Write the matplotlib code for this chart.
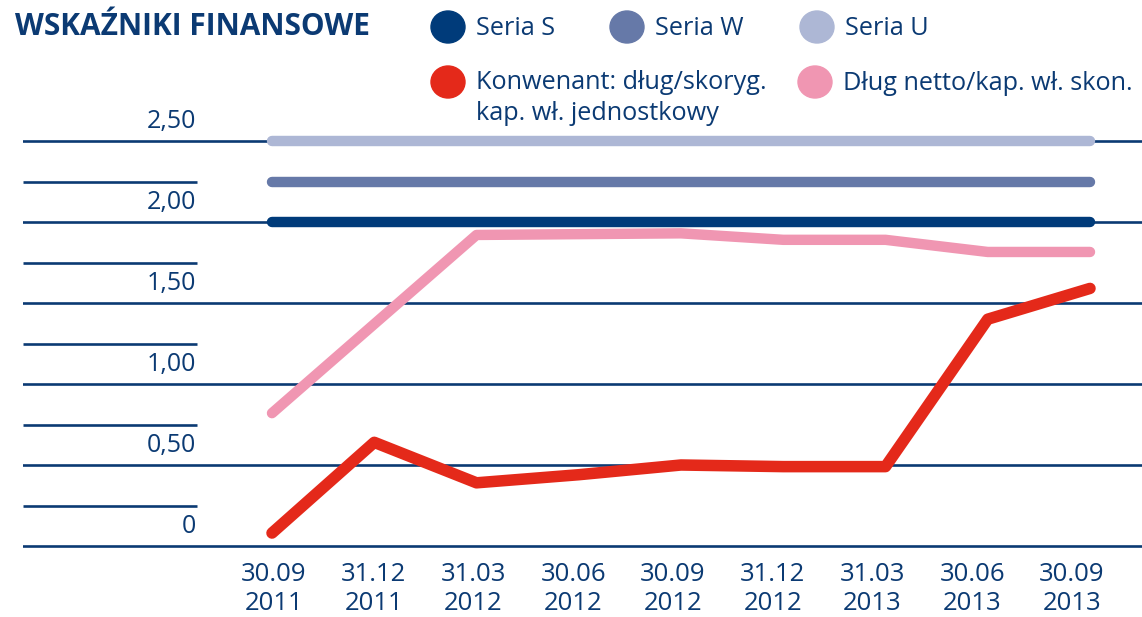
import numpy as np
import matplotlib.pyplot as plt
from matplotlib.patches import Ellipse

# dane
dates = ['30.09\n2011', '31.12\n2011', '31.03\n2012', '30.06\n2012', '30.09\n2012',
         '31.12\n2012', '31.03\n2013', '30.06\n2013', '30.09\n2013']
seria_s = [2.0, 2.0, 2.0, 2.0, 2.0, 2.0, 2.0, 2.0, 2.0]
seria_w = [2.25, 2.25, 2.25, 2.25, 2.25, 2.25, 2.25, 2.25, 2.25]
seria_u = [2.5, 2.5, 2.5, 2.5, 2.5, 2.5, 2.5, 2.5, 2.5]
konwenant = [0.08, 0.64, 0.39, 0.44, 0.50, 0.49, 0.49, 1.40, 1.59]
dlug_netto = [0.82, 1.37, 1.92, 1.925, 1.93, 1.89, 1.89, 1.815, 1.815]
ytick_labels = ['0', '0,50', '1,00', '1,50', '2,00', '2,50']

navy = '#0b3a73'
c_s, c_w, c_u = '#003b7a', '#6679a8', '#adb7d5'
c_red, c_pink = '#e4291a', '#f096b2'
plt.rcParams['font.family'] = ['Open Sans', 'DejaVu Sans']

W, H = 1142, 617
fig = plt.figure(figsize=(W / 100, H / 100), dpi=100)
# px 272 -> index 0, 102.25 px per step ; 162 px per unit on y
x0, dx = 272.0, 102.25
xl, xr = (23 - x0) / dx, (W - x0) / dx
ax = fig.add_axes([23 / W, (H - 562.2) / H, (W - 23) / W, 437.4 / H])
ax.set_xlim(xl, xr)
ax.set_ylim(-0.1, 2.6)
ax.axis('off')

# linie siatki
for v in np.arange(0, 2.51, 0.5):
    ax.axhline(v, color=navy, lw=1.9, zorder=1)
for v in np.arange(0.25, 2.3, 0.5):
    ax.plot([xl, (197 - x0) / dx], [v, v], color=navy, lw=1.9, zorder=1,
            solid_capstyle='butt')
for i, lab in enumerate(ytick_labels):
    ax.text((196 - x0) / dx, i * 0.5 + 0.118, lab, ha='right', va='center',
            fontsize=18, color=navy)

x = np.arange(len(dates))
for ser, c in [(seria_u, c_u), (seria_w, c_w), (seria_s, c_s)]:
    ax.plot(x, ser, color=c, lw=7.5, solid_capstyle='round', zorder=3)
ax.plot(x, dlug_netto, color=c_pink, lw=7.5, solid_capstyle='round',
        solid_joinstyle='round', zorder=4)
ax.plot(x, konwenant, color=c_red, lw=8.3, solid_capstyle='round',
        solid_joinstyle='round', zorder=5)

for i, lab in enumerate(dates):
    ax.text((2 + 99.75 * i) / dx, -0.1, lab, ha='center', va='top',
            fontsize=18.5, color=navy, linespacing=1.2)

# tytul i legenda
fig.text(15 / W, 1 - 27 / H, 'WSKAŹNIKI FINANSOWE', ha='left', va='center',
         fontsize=21.5, fontweight='bold', color=navy)
legend = [(448, 27, 35, c_s, 'Seria S'), (627, 27, 35, c_w, 'Seria W'),
          (817, 27, 35, c_u, 'Seria U'),
          (448, 82, 89, c_red, 'Konwenant: dług/skoryg.'),
          (815, 82, 90, c_pink, 'Dług netto/kap. wł. skon.')]
for px, py, base, c, lab in legend:
    fig.add_artist(Ellipse((px / W, 1 - py / H), 34 / W, 32 / H, color=c,
                           transform=fig.transFigure))
    fig.text((px + 28) / W, 1 - base / H, lab, ha='left', va='baseline',
             fontsize=18.2, color=navy)
fig.text(476 / W, 1 - 120 / H, 'kap. wł. jednostkowy', ha='left', va='baseline',
         fontsize=18.2, color=navy)

fig.savefig('out.png', dpi=100)
